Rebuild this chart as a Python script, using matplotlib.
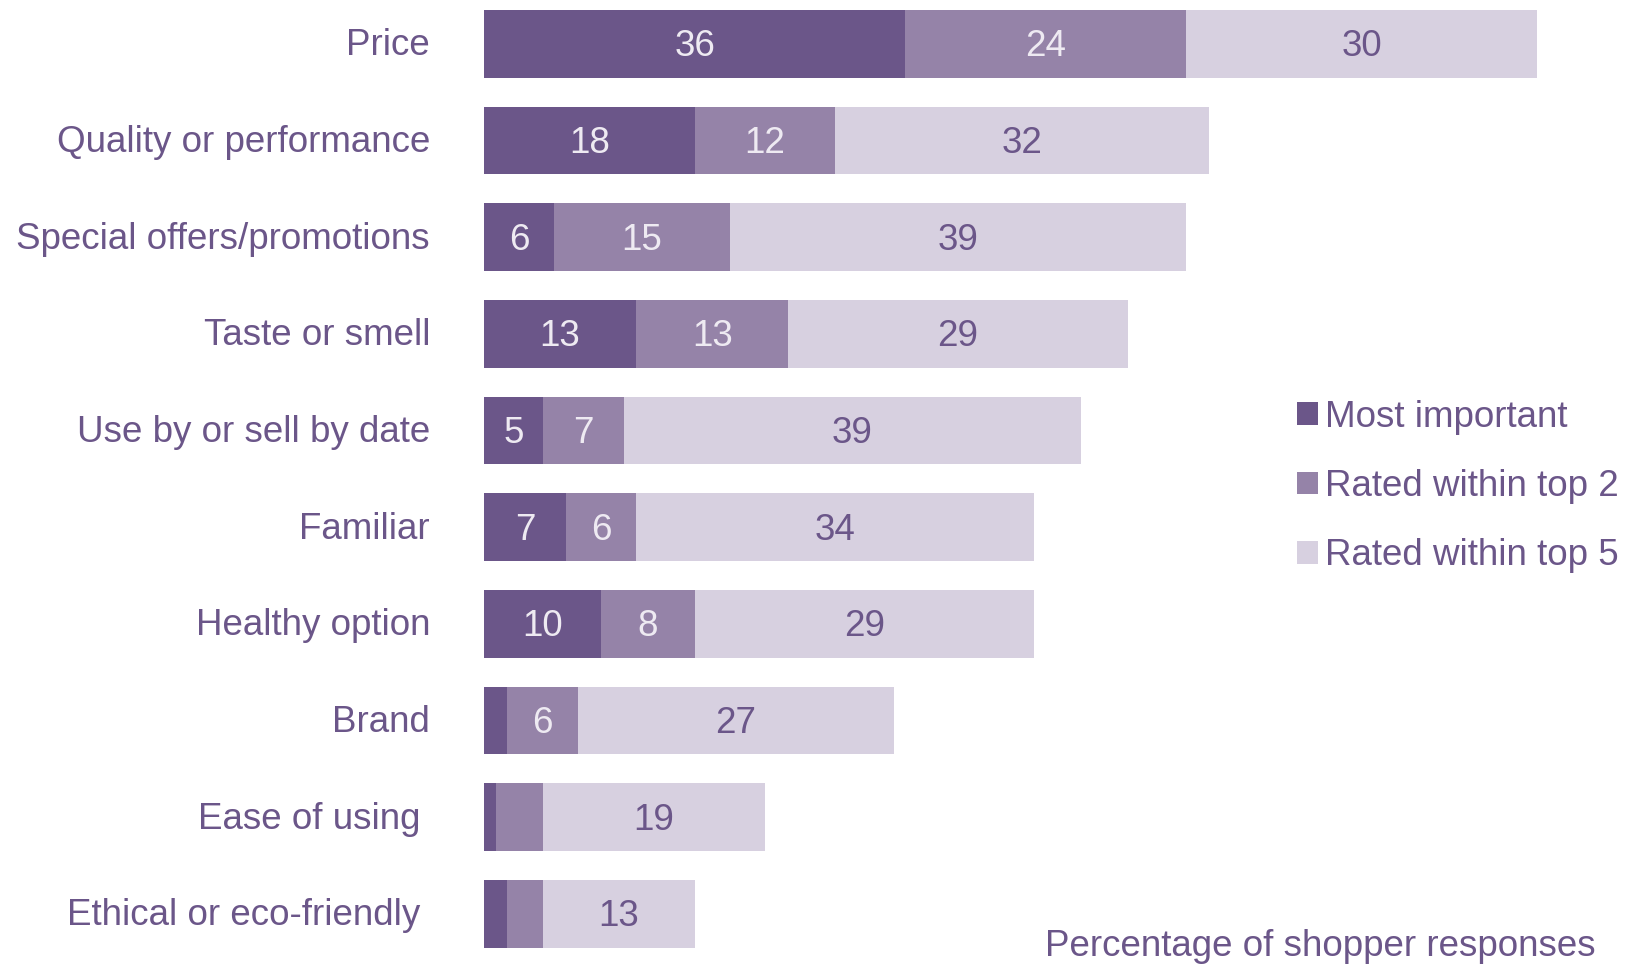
import matplotlib
matplotlib.use("Agg")
import matplotlib.pyplot as plt
from matplotlib import font_manager as fm

# pick a narrow font if one is there
names = {f.name for f in fm.fontManager.ttflist}
FONT = "Liberation Sans Narrow" if "Liberation Sans Narrow" in names else "Liberation Sans"
plt.rcParams["font.family"] = [FONT, "DejaVu Sans"]

categories = ["Price", "Quality or performance", "Special offers/promotions",
              "Taste or smell", "Use by or sell by date", "Familiar",
              "Healthy option", "Brand", "Ease of using", "Ethical or eco-friendly"]
most_important = [36, 18, 6, 13, 5, 7, 10, 2, 1, 2]
top2 = [24, 12, 15, 13, 7, 6, 8, 6, 4, 3]
top5 = [30, 32, 39, 29, 39, 34, 29, 27, 19, 13]
series_names = ["Most important", "Rated within top 2", "Rated within top 5"]

DARK = "#6b5689"
MID = "#9583a8"
LIGHT = "#d7d0e0"
TXT = "#6b5689"
FS = 26.5

W, H = 1635, 965
fig = plt.figure(figsize=(W / 100, H / 100), dpi=100)
ax = fig.add_axes([484 / W, 0, 1053 / W, 1])

y = list(range(len(categories)))
series = [most_important, top2, top5]
colors = [DARK, MID, LIGHT]
left = [0] * len(categories)
handles = []
for vals, col, name in zip(series, colors, series_names):
    bars = ax.barh(y, vals, left=left, height=0.7, color=col, label=name)
    handles.append(bars)
    for yi, v, l in zip(y, vals, left):
        if v >= 5:
            tc = TXT if col == LIGHT else "#eeeaf2"
            ax.text(l + v / 2, yi + 0.03, str(v), ha="center", va="center",
                    fontsize=FS, color=tc)
    left = [a + b for a, b in zip(left, vals)]

ax.set_xlim(0, 90)
ax.set_ylim(9.53, -0.455)
ax.axis("off")

# category labels, last two sit a bit further left
offsets = [0, 0, 0, 0, 0, 0, 0, 0, 10, 10]
for yi, cat, off in zip(y, categories, offsets):
    ax.annotate(cat, xy=(0, yi + 0.02), xytext=(-54 - off, 0), textcoords="offset pixels",
                ha="right", va="center", fontsize=FS, color=TXT)

fig.legend(handles=handles, labels=series_names, loc="upper left",
           bbox_to_anchor=(1282 / W, 1 - 385 / H), frameon=False,
           fontsize=FS, labelcolor=TXT, handlelength=0.58, handleheight=0.58,
           handletextpad=0.2, labelspacing=0.93, borderaxespad=0)

fig.text(1596 / W, 1 - 947 / H, "Percentage of shopper responses",
         ha="right", va="center", fontsize=FS, color=TXT)

fig.savefig("out.png", dpi=100)
